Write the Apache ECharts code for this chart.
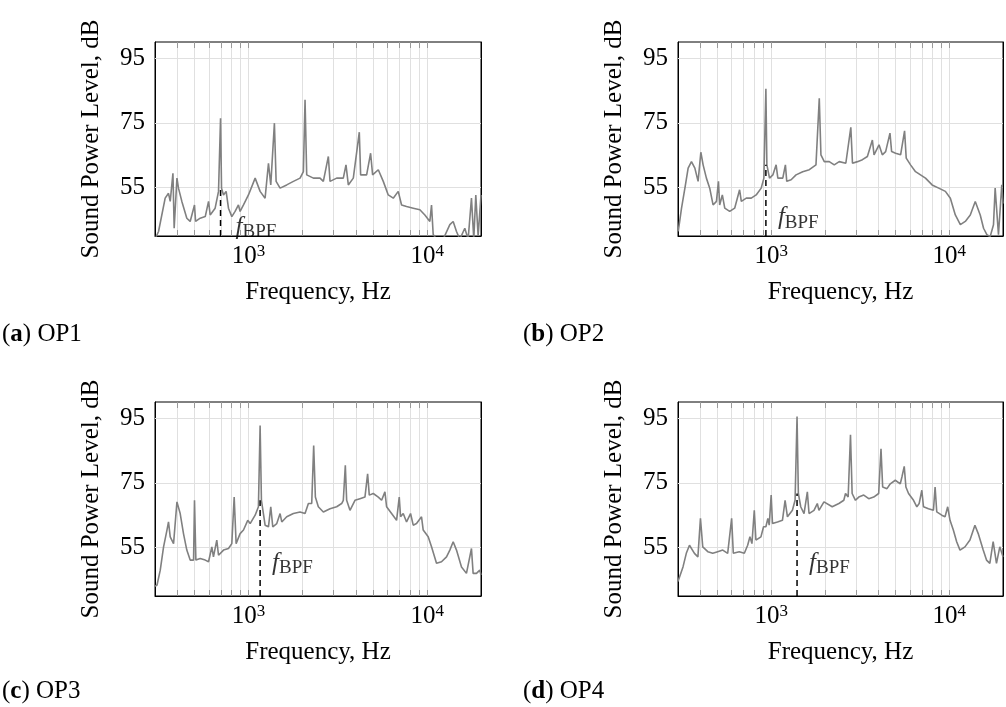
<!DOCTYPE html>
<html>
<head>
<meta charset="utf-8">
<script src="https://cdn.jsdelivr.net/npm/echarts@6/dist/echarts.min.js"></script>
<style>
  html, body { margin: 0; padding: 0; background: #fff; }
  #main { width: 1006px; height: 707px; }
</style>
</head>
<body>
<div id="main"></div>
<script>
// spectra: frequency (Hz) / sound power level (dB)
var freqA = [300, 314, 342, 357, 365, 378, 384, 398, 406, 424, 452, 472, 499, 506, 537, 573, 598, 611, 651, 680,
    698, 707, 725, 750, 773, 807, 842, 879, 898, 938, 1000, 1090, 1162, 1239, 1294, 1333, 1397, 1428, 1503, 1637,
    1784, 1944, 2029, 2073, 2118, 2308, 2514, 2624, 2799, 2860, 3115, 3394, 3513, 3620, 3860, 4170, 4242, 4583, 4824, 4950,
    5326, 5679, 6055, 6458, 6887, 7188, 7665, 8353, 9100, 9705, 10349, 10573, 10801, 11275, 12286, 13387, 13975, 14586, 15226, 16233,
    16946, 17688, 18227, 18703, 19275, 20000];
var levelA = [39, 41.4, 51.7, 53.2, 50.7, 59.4, 42.4, 57.9, 54.8, 50.7, 45.5, 44.5, 49.6, 44.5, 45.5, 46.0, 50.7, 46.5, 48.6, 53.8,
    76.4, 54.8, 52.7, 53.8, 48.6, 46.0, 47.6, 49.6, 47.6, 49.6, 52.7, 57.9, 53.8, 51.7, 62.5, 55.8, 74.9, 56.9, 54.8, 55.8,
    56.9, 57.9, 59.9, 82.1, 58.9, 57.9, 57.9, 56.9, 64.6, 56.9, 57.9, 57.9, 62.0, 55.8, 57.9, 72.1, 58.9, 58.9, 65.6, 58.9,
    60.5, 56.9, 52.7, 51.7, 53.8, 49.6, 49.1, 48.6, 48.1, 46.5, 44.5, 49.6, 40.5, 39, 39, 43.5, 44.5, 41.4, 39, 42.4,
    39, 51.7, 39, 52.7, 40, 52.7];

var freqB = [301, 314, 328, 342, 357, 373, 389, 403, 415, 433, 452, 472, 493, 506, 514, 532, 549, 585, 624, 665,
    680, 725, 773, 824, 879, 910, 934, 946, 979, 1022, 1066, 1090, 1162, 1202, 1223, 1294, 1379, 1503, 1637, 1784,
    1862, 1902, 1986, 2118, 2259, 2409, 2624, 2799, 2860, 3050, 3252, 3467, 3698, 3778, 4029, 4205, 4390, 4642, 4742, 4992,
    5326, 5606, 5727, 6055, 6458, 6887, 7344, 8002, 8717, 9500, 10130, 10801, 11524, 12286, 13104, 13975, 14904, 15556, 16233, 16946,
    17688, 18071, 18862, 19690, 20000];
var levelB = [41.4, 48.6, 54.8, 61.0, 63.0, 61.0, 56.9, 65.9, 62.0, 57.9, 54.8, 49.6, 50.7, 56.9, 49.6, 52.7, 48.6, 47.6, 48.6, 54.3,
    50.7, 51.7, 51.7, 52.7, 54.8, 57.9, 85.5, 62.0, 57.9, 58.9, 62.0, 57.9, 57.9, 62.0, 56.9, 57.4, 58.9, 59.9, 60.5, 62.0,
    82.6, 65.1, 63.0, 63.0, 62.0, 63.0, 62.5, 73.6, 62.5, 63.0, 63.6, 64.6, 69.7, 65.1, 68.2, 65.1, 66.1, 71.8, 66.1, 65.6,
    65.1, 72.5, 64.1, 62.0, 59.9, 58.9, 57.9, 55.8, 54.8, 53.8, 51.7, 46.5, 43.5, 44.5, 46.5, 50.7, 46.5, 42.4, 40.4, 39.8,
    43.5, 54.8, 40.4, 55.8, 50];

var freqC = [300, 308, 321, 335, 350, 357, 365, 381, 398, 415, 433, 452, 472, 493, 499, 508, 537, 573, 598, 624,
    637, 665, 680, 725, 773, 807, 832, 853, 898, 938, 991, 1022, 1090, 1137, 1162, 1182, 1239, 1294, 1333, 1368,
    1440, 1503, 1536, 1637, 1784, 1944, 2073, 2164, 2259, 2317, 2368, 2460, 2624, 2860, 3115, 3322, 3394, 3483, 3543, 3698,
    3944, 4205, 4485, 4642, 4742, 4992, 5326, 5559, 5801, 5927, 6321, 6741, 6976, 7097, 7344, 7665, 8071, 8353, 8717, 9296,
    9500, 10130, 10573, 11275, 12026, 12827, 13387, 13975, 14586, 15556, 16584, 17688, 18071, 18862, 19690, 20000];
var levelC = [43, 43.4, 48.0, 55.2, 60.4, 62.9, 58.3, 56.2, 69.1, 65.5, 59.3, 54.2, 51.1, 51.1, 69.6, 51.1, 51.6, 51.1, 50.6, 55.2,
    52.1, 57.3, 52.6, 54.2, 54.7, 56.2, 70.6, 56.2, 59.3, 60.4, 63.4, 62.4, 65.0, 67.6, 92.7, 69.6, 61.9, 61.4, 67.6, 61.4,
    62.4, 65.5, 62.9, 64.5, 65.5, 66.0, 65.5, 68.6, 68.6, 86.5, 70.6, 67.6, 66.0, 67.0, 67.6, 68.6, 69.6, 80.4, 69.6, 66.5,
    69.6, 70.1, 70.6, 77.8, 71.2, 71.7, 70.6, 69.6, 72.2, 67.6, 65.5, 63.4, 70.6, 64.5, 65.5, 62.9, 65.5, 61.9, 62.4, 64.5,
    60.4, 58.3, 55.2, 50.1, 50.6, 52.1, 54.2, 56.8, 54.2, 49.0, 47.0, 54.7, 47.0, 47.0, 48.0, 46.5];

var freqD = [300, 306, 320, 334, 348, 356, 371, 388, 401, 413, 441, 470, 501, 535, 570, 600, 613, 662, 707, 738,
    760, 780, 804, 821, 876, 906, 934, 958, 975, 1000, 1017, 1085, 1157, 1197, 1234, 1316, 1362, 1397, 1421, 1465,
    1529, 1596, 1631, 1739, 1815, 1854, 1978, 2020, 2201, 2399, 2557, 2613, 2704, 2787, 2847, 2972, 3102, 3308, 3528, 3762,
    4012, 4134, 4224, 4466, 4661, 4972, 5303, 5417, 5582, 5703, 5901, 6294, 6570, 6770, 7006, 7158, 7633, 8140, 8317, 8497,
    9062, 9458, 9788, 10086, 10527, 10990, 11474, 12234, 13049, 13914, 14521, 15488, 16164, 16872, 17611, 18383, 19193, 20000];
var levelD = [44.5, 45.9, 49.0, 53.2, 55.7, 56.2, 53.2, 52.1, 64.0, 55.2, 53.7, 53.2, 53.7, 54.2, 53.2, 64.0, 53.2, 53.7, 53.2, 55.7,
    58.3, 56.2, 66.5, 57.3, 58.3, 61.4, 61.4, 64.0, 61.9, 71.2, 62.4, 62.9, 63.4, 69.6, 64.5, 66.5, 69.6, 95.5, 71.7, 67.6,
    65.5, 72.2, 65.5, 66.5, 68.6, 66.5, 69.1, 68.6, 67.6, 68.6, 69.6, 71.7, 70.6, 89.9, 71.7, 69.6, 70.6, 71.2, 70.1, 70.6,
    71.7, 85.5, 73.7, 73.2, 74.7, 75.8, 74.7, 76.8, 80.1, 73.7, 71.7, 69.6, 67.6, 68.6, 72.7, 67.6, 67.0, 66.5, 73.7, 66.0,
    65.0, 64.5, 67.6, 63.4, 60.4, 56.8, 54.2, 55.2, 57.3, 61.9, 59.3, 54.2, 51.1, 50.1, 56.8, 50.1, 55.2, 52.1];

// blade passing frequency and the level where the dashed marker stops
var bpfFreq = [698, 934, 1162, 1397];
var bpfLevel = [54.8, 62.0, 69.6, 71.7];

var captionLetters = ['a', 'b', 'c', 'd'];
var captionNames = ['OP1', 'OP2', 'OP3', 'OP4'];

var gridFreqs = [400, 500, 600, 700, 800, 900, 1000, 2000, 3000, 4000, 5000, 6000, 7000, 8000, 9000, 10000];
var yTicks = [55, 75, 95];

var xMin = 300, xMax = 20000, yMin = 40, yMax = 100;

// layout
var FONT = "'Liberation Serif', 'Times New Roman', serif";
var plotW = 326, plotH = 194;
var panels = [
    { left: 155, top: 42, labelDb: 42.8, labelGap: 15, capX: 2, capY: 322 },
    { left: 678, top: 42, labelDb: 45.6, labelGap: 12, capX: 523, capY: 322 },
    { left: 155, top: 402, labelDb: 50.2, labelGap: 12, capX: 2, capY: 679 },
    { left: 678, top: 402, labelDb: 50.2, labelGap: 12, capX: 523, capY: 679 }
];
var tickPx = 6;
var tickDb = tickPx / plotH * (yMax - yMin);

var curves = [[freqA, levelA], [freqB, levelB], [freqC, levelC], [freqD, levelD]];

var option = {
    backgroundColor: '#fff',
    animation: false,
    grid: [], xAxis: [], yAxis: [], series: [], graphic: []
};

var pairs = function (xs, ys) {
    return xs.map(function (x, k) { return [x, ys[k]]; });
};

panels.forEach(function (p, i) {
    option.grid.push({
        left: p.left, top: p.top, width: plotW, height: plotH,
        show: true, borderColor: '#000', borderWidth: 1, backgroundColor: 'transparent'
    });

    option.xAxis.push({
        gridIndex: i, type: 'log', logBase: 10, min: xMin, max: xMax,
        axisLine: { show: true, onZero: false, lineStyle: { color: '#000', width: 1 } },
        axisTick: { show: false },
        splitLine: { show: false },
        minorTick: { show: false },
        axisLabel: {
            margin: 7,
            color: '#000',
            formatter: function (v) {
                var e = Math.log10(v);
                var r = Math.round(e);
                if (Math.abs(e - r) > 1e-6) return '';
                return '{b|10}{s|' + r + '}';
            },
            rich: {
                b: { fontFamily: FONT, fontSize: 25, lineHeight: 26, color: '#000', verticalAlign: 'bottom' },
                s: { fontFamily: FONT, fontSize: 17, lineHeight: 17, color: '#000', verticalAlign: 'top' }
            }
        },
        name: 'Frequency, Hz', nameLocation: 'middle', nameGap: 44,
        nameTextStyle: { fontFamily: FONT, fontSize: 25, color: '#000' }
    });

    option.yAxis.push({
        gridIndex: i, type: 'value', min: yMin, max: yMax, position: 'left',
        axisLine: { show: true, onZero: false, lineStyle: { color: '#000', width: 1 } },
        axisTick: { show: true, inside: true, length: tickPx, customValues: yTicks, lineStyle: { color: '#999' } },
        axisLabel: { customValues: yTicks, margin: 10, fontFamily: FONT, fontSize: 25, color: '#000' },
        splitLine: { show: false },
        name: 'Sound Power Level, dB', nameLocation: 'middle', nameGap: 51,
        nameTextStyle: { fontFamily: FONT, fontSize: 25, color: '#000' }
    });
    option.yAxis.push({
        gridIndex: i, type: 'value', min: yMin, max: yMax, position: 'right',
        axisLine: { show: true, onZero: false, lineStyle: { color: '#000', width: 1 } },
        axisTick: { show: true, inside: true, length: tickPx, customValues: yTicks, lineStyle: { color: '#999' } },
        axisLabel: { show: false },
        splitLine: { show: false }
    });

    var gridMarks = gridFreqs.map(function (f) { return { xAxis: f }; })
        .concat(yTicks.map(function (v) { return { yAxis: v }; }));

    var tickMarks = [];
    gridFreqs.forEach(function (f) {
        tickMarks.push([{ coord: [f, yMin] }, { coord: [f, yMin + tickDb] }]);
        tickMarks.push([{ coord: [f, yMax] }, { coord: [f, yMax - tickDb] }]);
    });

    option.series.push({
        type: 'line',
        xAxisIndex: i, yAxisIndex: i * 2,
        data: pairs(curves[i][0], curves[i][1]),
        showSymbol: false, symbol: 'none', z: 2,
        lineStyle: { color: '#808080', width: 1.6 },
        clip: true,
        markLine: {
            silent: true, z: 1, symbol: ['none', 'none'], animation: false,
            label: { show: false },
            lineStyle: { color: '#e0e0e0', width: 1, type: 'solid' },
            emphasis: { disabled: true },
            data: gridMarks
        }
    });

    option.series.push({
        type: 'line',
        xAxisIndex: i, yAxisIndex: i * 2,
        data: [[bpfFreq[i], yMin], [bpfFreq[i], bpfLevel[i]]],
        showSymbol: false, symbol: 'none', z: 4,
        lineStyle: { color: '#000', width: 1.5, type: [6, 4] },
        markLine: {
            silent: true, z: 5, symbol: ['none', 'none'], animation: false,
            label: { show: false },
            lineStyle: { color: '#999', width: 1, type: 'solid' },
            emphasis: { disabled: true },
            data: tickMarks
        }
    });

    option.series.push({
        type: 'scatter',
        xAxisIndex: i, yAxisIndex: i * 2,
        data: [[bpfFreq[i], p.labelDb]],
        symbolSize: 0, silent: true, z: 6,
        label: {
            show: true, position: 'right', distance: p.labelGap,
            formatter: '{f|f}{s|BPF}',
            rich: {
                f: { fontFamily: FONT, fontSize: 25, fontStyle: 'italic', lineHeight: 25, color: '#000', verticalAlign: 'top' },
                s: { fontFamily: FONT, fontSize: 19, lineHeight: 19, color: '#000', verticalAlign: 'top', padding: [8, 0, 0, 0] }
            }
        }
    });

    option.graphic.push({
        type: 'text', left: p.capX, top: p.capY, silent: true,
        style: {
            text: '({b|' + captionLetters[i] + '}) ' + captionNames[i],
            font: '25px ' + FONT,
            fill: '#000',
            rich: {
                b: { fontFamily: FONT, fontSize: 25, fontWeight: 'bold', fill: '#000' }
            }
        }
    });
});

var myChart = echarts.init(document.getElementById('main'), null, { renderer: 'canvas' });
myChart.setOption(option);
</script>
</body>
</html>
